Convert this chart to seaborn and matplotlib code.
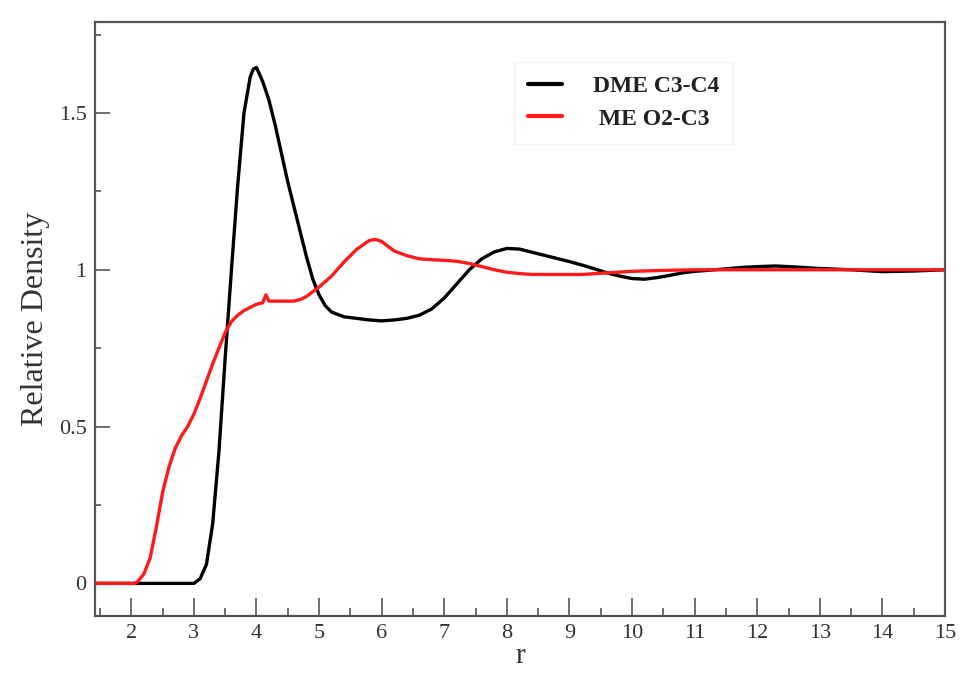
import numpy as np
import pandas as pd
import matplotlib
matplotlib.use("Agg")
import matplotlib.pyplot as plt
import seaborn as sns
from matplotlib.ticker import MultipleLocator, FixedLocator, FixedFormatter

# ---- data ----
dme_r = [1.42, 2.0, 2.5, 3.0, 3.1, 3.2, 3.3, 3.4, 3.5, 3.6, 3.7, 3.8, 3.9, 3.95, 4.0,
         4.1, 4.2, 4.3, 4.4, 4.5, 4.6, 4.7, 4.8, 4.9, 5.0, 5.1, 5.2, 5.4, 5.6, 5.8,
         6.0, 6.2, 6.4, 6.6, 6.8, 7.0, 7.2, 7.4, 7.6, 7.8, 8.0, 8.2, 8.4, 8.6, 8.8,
         9.0, 9.2, 9.4, 9.6, 9.8, 10.0, 10.2, 10.4, 10.6, 10.8, 11.0, 11.2, 11.5,
         11.8, 12.0, 12.3, 12.6, 13.0, 13.5, 14.0, 14.5, 15.0]
dme_g = [0.0, 0.0, 0.0, 0.0, 0.015, 0.06, 0.19, 0.42, 0.72, 1.0, 1.27, 1.5, 1.615, 1.64, 1.645,
         1.6, 1.54, 1.46, 1.37, 1.28, 1.2, 1.12, 1.04, 0.97, 0.92, 0.885, 0.865, 0.85, 0.845, 0.84,
         0.837, 0.84, 0.845, 0.855, 0.875, 0.91, 0.955, 1.0, 1.035, 1.057, 1.068, 1.066, 1.056, 1.046, 1.036,
         1.026, 1.015, 1.003, 0.99, 0.98, 0.972, 0.97, 0.975, 0.982, 0.99, 0.995, 0.998, 1.003,
         1.008, 1.01, 1.012, 1.009, 1.004, 1.0, 0.994, 0.996, 1.0]

me_r = [1.42, 2.05, 2.1, 2.2, 2.3, 2.4, 2.5, 2.6, 2.7, 2.8, 2.9, 3.0, 3.1, 3.2, 3.3, 3.4,
        3.5, 3.6, 3.7, 3.8, 3.9, 4.0, 4.1, 4.15, 4.2, 4.3, 4.4, 4.6, 4.7, 4.8, 4.9, 5.0,
        5.2, 5.4, 5.6, 5.8, 5.9, 6.0, 6.1, 6.2, 6.4, 6.6, 6.8, 7.0, 7.2, 7.4, 7.6, 7.8,
        8.0, 8.2, 8.4, 8.8, 9.2, 9.6, 10.0, 10.5, 11.0, 12.0, 13.0, 14.0, 15.0]
me_g = [0.0, 0.0, 0.005, 0.03, 0.08, 0.18, 0.29, 0.37, 0.43, 0.47, 0.5, 0.54, 0.59, 0.645, 0.7, 0.75,
        0.8, 0.835, 0.855, 0.87, 0.88, 0.89, 0.895, 0.92, 0.9, 0.9, 0.9, 0.9, 0.905, 0.915, 0.93, 0.945,
        0.98, 1.025, 1.065, 1.093, 1.097, 1.09, 1.075, 1.06, 1.045, 1.035, 1.032, 1.03, 1.027, 1.02, 1.01, 1.0,
        0.992, 0.988, 0.985, 0.985, 0.985, 0.99, 0.995, 0.998, 1.0, 1.0, 1.0, 1.0, 1.0]

series_names = ["DME C3-C4", " ME O2-C3"]
series_colors = ["#000000", "#ff1a1a"]
x_ticks = [2, 3, 4, 5, 6, 7, 8, 9, 10, 11, 12, 13, 14, 15]
y_ticks = [0, 0.5, 1, 1.5]
y_tick_labels = ["0", "0.5", "1", "1.5"]

df = pd.concat([
    pd.DataFrame({"r": dme_r, "g": dme_g, "series": series_names[0]}),
    pd.DataFrame({"r": me_r, "g": me_g, "series": series_names[1]}),
], ignore_index=True)

sns.set_style("ticks")
plt.rcParams["font.family"] = ["Liberation Serif", "DejaVu Serif"]

fig = plt.figure(figsize=(9.65, 6.73), dpi=100)
ax = fig.add_axes([95 / 965, 1 - 616 / 673, 850 / 965, 594 / 673])

sns.lineplot(data=df, x="r", y="g", hue="series", palette=series_colors,
             hue_order=series_names, linewidth=2.4, ax=ax, estimator=None, sort=True,
             solid_joinstyle="round", solid_capstyle="round")

ax.set_xlim(1.42, 15)
ax.set_ylim(-0.104, 1.79)

spine_col = "#555555"
for s in ax.spines.values():
    s.set_color(spine_col)
    s.set_linewidth(1.6)

ax.xaxis.set_major_locator(FixedLocator(x_ticks))
ax.xaxis.set_minor_locator(MultipleLocator(0.5))
ax.yaxis.set_major_locator(FixedLocator(y_ticks))
ax.yaxis.set_major_formatter(FixedFormatter(y_tick_labels))
ax.yaxis.set_minor_locator(MultipleLocator(0.25))

ax.tick_params(axis="x", which="major", direction="in", length=13, width=1.2,
               color=spine_col, labelsize=16, labelcolor="#333333", pad=6,
               top=False)
ax.tick_params(axis="x", which="minor", direction="in", length=6, width=1.2,
               color=spine_col, top=False)
ax.tick_params(axis="y", which="major", direction="in", length=11, width=1.2,
               color=spine_col, labelsize=16, labelcolor="#333333", pad=6,
               right=False)
ax.tick_params(axis="y", which="minor", direction="in", length=4, width=1.2,
               color=spine_col, right=False)

ax.set_xlabel("r", fontsize=21, color="#333333", labelpad=0)
ax.set_ylabel("Relative Density", fontsize=23, color="#333333", labelpad=6)

leg = ax.legend(loc="upper left", bbox_to_anchor=(502 / 965, 1 - 50 / 673),
                bbox_transform=fig.transFigure, frameon=True, fancybox=False,
                prop={"family": "Liberation Serif", "weight": "bold", "size": 17},
                handlelength=1.45, handletextpad=1.3, labelspacing=0.45,
                borderpad=0.6, title=None)
leg.get_frame().set_edgecolor("#f0f0f0")
leg.get_frame().set_linewidth(1.0)
for t in leg.get_texts():
    t.set_color("#222222")
for line in leg.get_lines():
    line.set_linewidth(3)

fig.savefig("out.png", dpi=100)
